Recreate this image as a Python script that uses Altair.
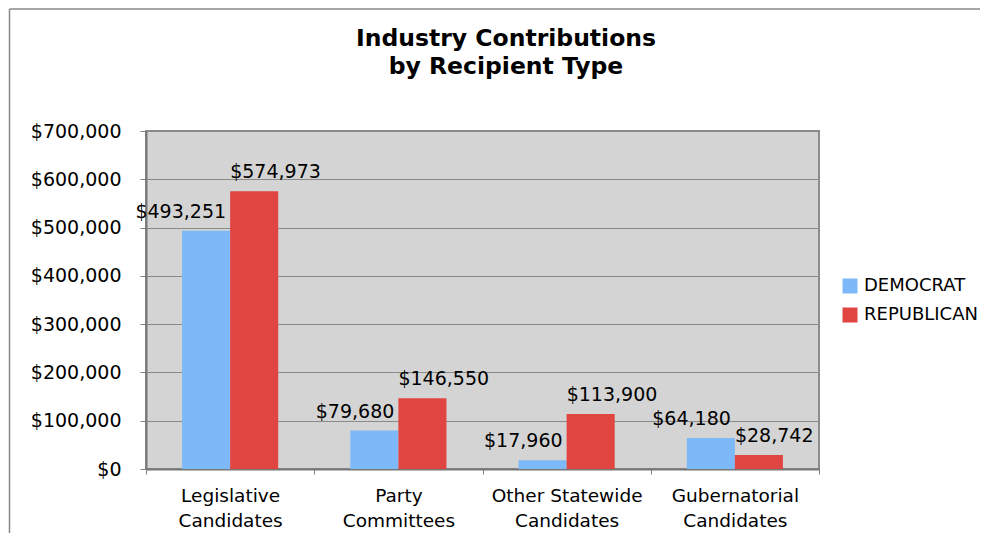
import altair as alt
import pandas as pd

categories = ["Legislative Candidates", "Party Committees",
              "Other Statewide Candidates", "Gubernatorial Candidates"]
parties = ["DEMOCRAT", "REPUBLICAN"]
democrat = [493251, 79680, 17960, 64180]
republican = [574973, 146550, 113900, 28742]
party_colors = ["#7DB9F9", "#E04542"]
y_ticks = [0, 100000, 200000, 300000, 400000, 500000, 600000, 700000]
title_lines = ["Industry Contributions", "by Recipient Type"]

rows = []
for c, d, r in zip(categories, democrat, republican):
    rows.append({"Category": c, "Party": parties[0], "Amount": d})
    rows.append({"Category": c, "Party": parties[1], "Amount": r})
df = pd.DataFrame(rows)

FONT = "DejaVu Sans"
FS = 19

x_enc = alt.X(
    "Category:N", sort=categories,
    scale=alt.Scale(paddingInner=0, paddingOuter=0),
    axis=alt.Axis(
        title=None, labelAngle=0,
        labelExpr="[slice(datum.label, 0, lastindexof(datum.label, ' ')), "
                  "slice(datum.label, lastindexof(datum.label, ' ') + 1)]",
        labelFont=FONT, labelFontSize=18.5, labelColor="black",
        labelLineHeight=25, labelPadding=12,
        tickBand="extent", tickSize=5, tickColor="#808080",
        domainColor="#777777", domainWidth=2,
    ),
)
xo_enc = alt.XOffset("Party:N", sort=parties,
                     scale=alt.Scale(paddingInner=0, paddingOuter=0.75))
y_enc = alt.Y(
    "Amount:Q",
    scale=alt.Scale(domain=[0, 700000], nice=False),
    axis=alt.Axis(
        title=None, values=y_ticks, format="$,.0f",
        labelFont=FONT, labelFontSize=FS, labelColor="black",
        labelPadding=19, tickSize=6, tickColor="#808080",
        domainColor="#777777", domainWidth=2,
        gridColor="#8a8a8a", gridWidth=1,
    ),
)

base = alt.Chart(df)

bars = base.mark_bar().encode(
    x=x_enc, xOffset=xo_enc, y=y_enc,
    color=alt.Color(
        "Party:N", sort=parties,
        scale=alt.Scale(domain=parties, range=party_colors),
        legend=alt.Legend(
            title=None, orient="none", legendX=695, legendY=146,
            symbolType="square", symbolSize=225, symbolStrokeWidth=0,
            labelFont=FONT, labelFontSize=18, labelColor="black",
            rowPadding=11, labelOffset=5, padding=0,
        ),
    ),
)

dem_text = base.transform_filter(alt.datum.Party == parties[0]).mark_text(
    align="right", baseline="alphabetic", dx=20, dy=-13,
    font=FONT, fontSize=FS, color="black",
).encode(x=x_enc, xOffset=xo_enc, y=y_enc,
         text=alt.Text("Amount:Q", format="$,.0f"))

rep_text = base.transform_filter(alt.datum.Party == parties[1]).mark_text(
    align="left", baseline="alphabetic", dx=-24, dy=-13,
    font=FONT, fontSize=FS, color="black",
).encode(x=x_enc, xOffset=xo_enc, y=y_enc,
         text=alt.Text("Amount:Q", format="$,.0f"))

deco = alt.Chart(pd.DataFrame({"k": [0]}))
frame_top = deco.mark_rule(color="#888888", strokeWidth=1.5).encode(
    x=alt.value(-136.5), x2=alt.value(834), y=alt.value(-122))
frame_left = deco.mark_rule(color="#888888", strokeWidth=1.5).encode(
    x=alt.value(-136.5), y=alt.value(-122), y2=alt.value(402))
title = deco.mark_text(
    text=title_lines, font=FONT, fontSize=23.5, fontWeight="bold",
    lineHeight=28, align="center", baseline="alphabetic", color="black",
).encode(x=alt.value(360), y=alt.value(-85))

chart = alt.layer(frame_top, frame_left, title, bars, dem_text, rep_text).properties(
    width=673, height=338, padding=0,
).configure_view(fill="#D4D4D4", stroke="#8c8c8c", strokeWidth=2)

chart.save("out.html", embed_options={"renderer": "svg", "actions": False})
